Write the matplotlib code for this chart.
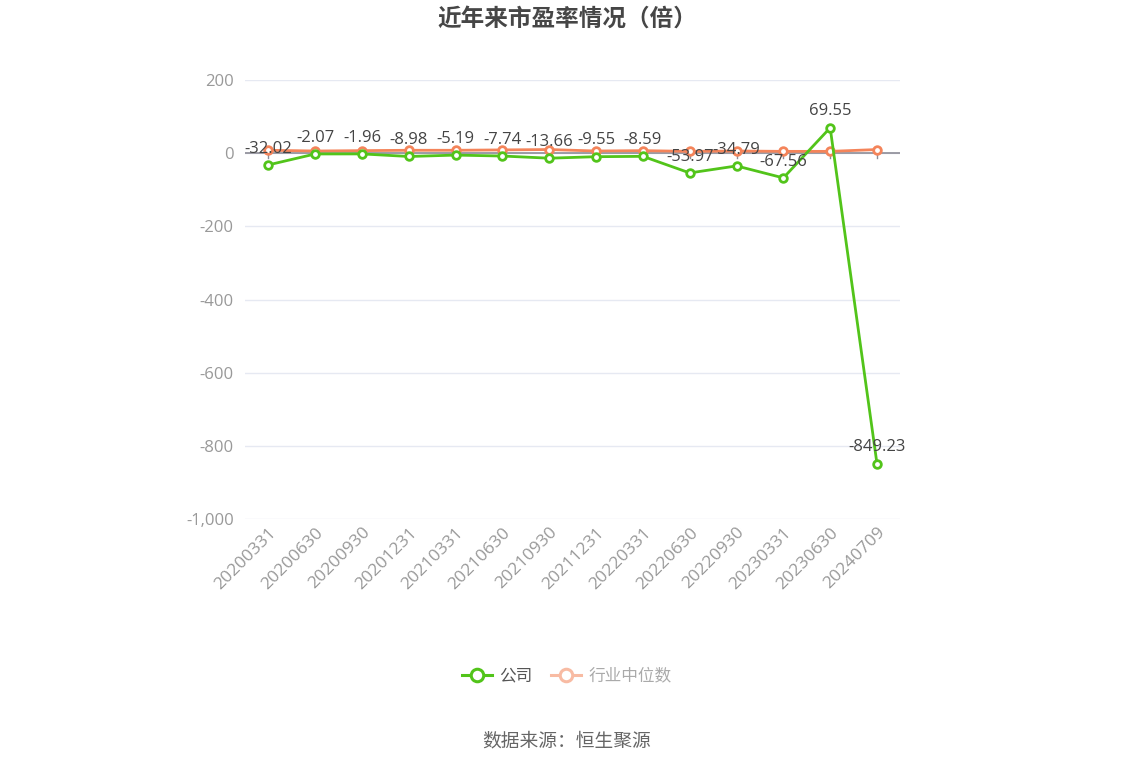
import matplotlib.pyplot as plt
import numpy as np
from matplotlib.lines import Line2D

plt.rcParams["font.family"] = ["Open Sans", "Noto Sans CJK SC", "DejaVu Sans"]

# Data
dates = [
    "20200331", "20200630", "20200930", "20201231", "20210331", "20210630",
    "20210930", "20211231", "20220331", "20220630", "20220930", "20230331",
    "20230630", "20240709",
]
company_pe = [-32.02, -2.07, -1.96, -8.98, -5.19, -7.74, -13.66, -9.55,
              -8.59, -53.97, -34.79, -67.56, 69.55, -849.23]
industry_pe = [8, 6, 7, 8, 8, 9, 10, 6, 7, 5, 6, 5, 5, 10]
y_ticks = [200, 0, -200, -400, -600, -800, -1000]

green = "#52c41a"
orange = "#f4845a"

fig = plt.figure(figsize=(11.34, 7.66), dpi=100)
ax = fig.add_axes([0.216, 0.3225, 0.578, 0.573])

x = np.arange(len(dates))

ax.plot(x, industry_pe, color=orange, linewidth=2, marker="o", markersize=5.5,
        markerfacecolor="white", markeredgecolor=orange, markeredgewidth=2, zorder=4)
ax.plot(x, company_pe, color=green, linewidth=2, marker="o", markersize=5.5,
        markerfacecolor="white", markeredgecolor=green, markeredgewidth=2, zorder=5)

# Value labels above company points
for xi, v in zip(x, company_pe):
    ax.annotate(f"{v:.2f}", (xi, v), xytext=(0, 6), textcoords="offset points",
                ha="center", va="bottom", fontsize=12, color="#444444", zorder=6)

ax.set_xlim(-0.5, len(dates) - 0.5)
ax.set_ylim(-1000, 200)
ax.set_yticks(y_ticks)
ax.set_yticklabels([f"{t:,}" for t in y_ticks])
ax.grid(axis="y", color="#e6e9f2", linewidth=1)
ax.set_axisbelow(True)

# Zero axis line with category ticks
ax.axhline(0, color="#8c8c96", linewidth=1.2, zorder=3)
for xi in x:
    ax.plot([xi, xi], [0, -14], color="#8c8c96", linewidth=1, zorder=3)

for s in ax.spines.values():
    s.set_visible(False)

ax.tick_params(axis="y", length=0, labelsize=12, labelcolor="#999999", pad=8)
ax.tick_params(axis="x", length=0, labelsize=12.5, labelcolor="#999999", pad=4)
ax.set_xticks(x)
ax.set_xticklabels(dates, rotation=45, ha="right", va="top", rotation_mode="anchor")

fig.text(0.5, 0.976, "近年来市盈率情况（倍）", ha="center", va="center",
         fontsize=17, fontweight="bold", color="#464646",
         family=["Noto Sans CJK SC", "DejaVu Sans"])

handles = [
    Line2D([], [], color=green, linewidth=2.2, marker="o", markersize=9,
           markerfacecolor="white", markeredgecolor=green, markeredgewidth=2.2),
    Line2D([], [], color="#f8bba3", linewidth=2.2, marker="o", markersize=9,
           markerfacecolor="white", markeredgecolor="#f8bba3", markeredgewidth=2.2),
]
leg = fig.legend(handles, ["公司", "行业中位数"], loc="center", bbox_to_anchor=(0.5, 0.1175),
                 ncol=2, frameon=False, handlelength=1.8,
                 columnspacing=1.1, handletextpad=0.45,
                 prop={"family": ["Noto Sans CJK SC", "DejaVu Sans"], "size": 12})
leg.get_texts()[0].set_color("#555555")
leg.get_texts()[1].set_color("#aaaaaa")

fig.text(0.5, 0.033, "数据来源：恒生聚源", ha="center", va="center",
         fontsize=13.5, color="#666666", family=["Noto Sans CJK SC", "DejaVu Sans"])

fig.savefig("out.png", dpi=100)
